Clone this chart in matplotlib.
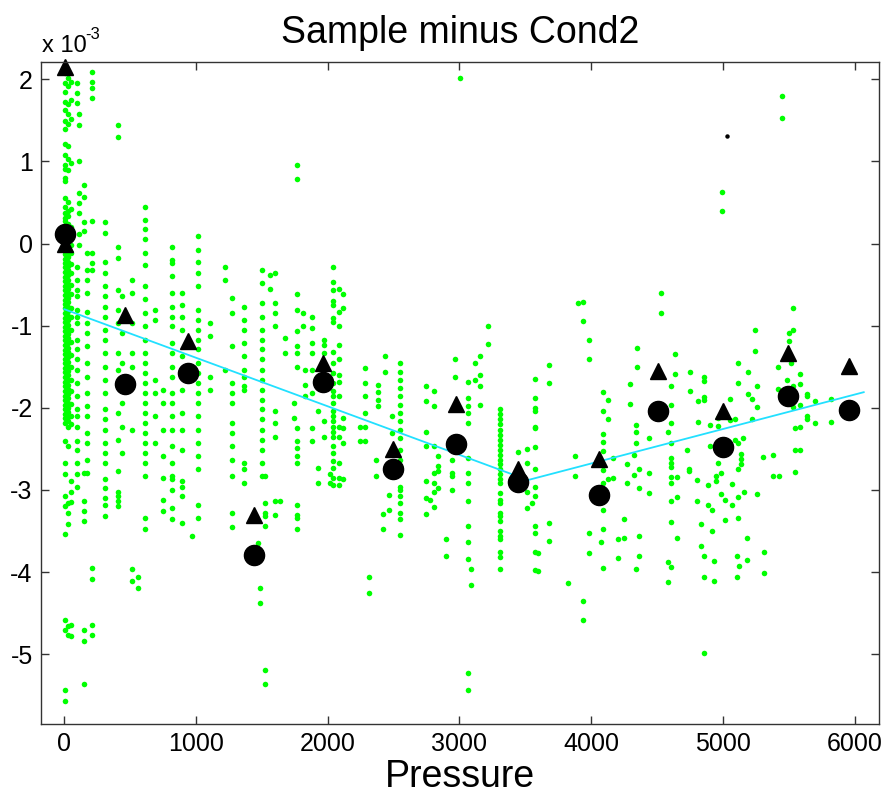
import matplotlib
matplotlib.use("Agg")
import matplotlib.pyplot as plt

plt.rcParams['font.family'] = ['Liberation Sans', 'DejaVu Sans']
plt.rcParams['axes.unicode_minus'] = False

# values are in units of 1e-3, grouped as (pressure, [values]) columns
green_surface = [
    (5, [2.07, 1.96, 1.85, 1.72, 1.62, 1.49, 1.40, 1.21, 1.08, 0.96, 0.91, 0.80, 0.76, 0.55, 0.44,
         0.37, 0.31, 0.27, 0.21, 0.17, 0.12, 0.07, 0.03, -0.03, -0.08, -0.13, -0.19, -0.24, -0.29,
         -0.35, -0.41, -0.46, -0.52, -0.57, -0.63, -0.69, -0.74, -0.79, -0.85, -0.91, -0.96, -1.02,
         -1.07, -1.13, -1.18, -1.24, -1.30, -1.35, -1.41, -1.46, -1.52, -1.57, -1.63, -1.69, -1.74,
         -1.80, -1.86, -1.91, -1.97, -2.02, -2.08, -2.13, -2.19, -2.41, -2.67, -2.81, -3.08, -3.20,
         -3.54, -4.58, -4.71, -5.44, -5.57]),
    (25, [2.01, 1.92, 1.70, 1.58, 1.45, 1.19, 1.03, 0.89, 0.50, 0.40, 0.33, 0.24, 0.15, 0.09, 0.01,
          -0.05, -0.11, -0.16, -0.22, -0.27, -0.32, -0.38, -0.44, -0.49, -0.55, -0.60, -0.66, -0.71,
          -0.77, -0.82, -0.88, -0.93, -0.99, -1.04, -1.10, -1.15, -1.21, -1.27, -1.32, -1.38, -1.44,
          -1.49, -1.55, -1.60, -1.66, -1.72, -1.77, -1.83, -1.88, -1.94, -2.00, -2.05, -2.11, -2.16,
          -2.23, -2.47, -3.16, -3.28, -3.42, -4.66, -4.77]),
    (50, [1.97, 1.75, 1.52, 0.98, 0.42, 0.20, -0.02, -0.12, -0.25, -0.36, -0.50, -0.62, -0.78, -0.90,
          -1.05, -1.20, -1.36, -1.50, -1.66, -1.80, -1.95, -2.10, -2.20, -2.89, -3.02, -3.15, -4.65,
          -4.78]),
    (100, [1.95, 1.83, 1.71, -0.28, -0.44, -0.56, -0.64, -0.81, -0.89, -0.97, -1.17, -1.29, -1.41,
           -1.54, -1.70, -1.86, -2.02, -2.10, -2.23, -2.41, -2.51, -2.67, -2.81, -2.96]),
    (114, [1.58, 1.44, 1.00, 0.62, 0.49, 0.37, 0.11, -0.02]),
    (150, [0.71, 0.57, 0.26, 0.15, -2.79, -3.14, -3.26, -3.38, -4.70, -4.84, -5.36]),
    (170, [-0.12, -0.32, -0.44, -0.60, -0.83, -0.97, -1.09, -1.25, -1.46, -1.62, -1.82, -1.98,
           -2.10, -2.31, -2.43, -2.63, -2.79]),
    (208, [2.09, 1.97, 1.89, 1.77, 0.28, -0.12, -0.24, -0.32, -3.95, -4.08, -4.65, -4.77]),
    (309, [0.26, 0.13, -0.22, -0.36, -0.52, -0.64, -0.77, -0.89, -1.05, -1.17, -1.33, -1.50, -1.66,
           -1.82, -2.02, -2.14, -2.27, -2.43, -2.55, -2.67, -2.87, -2.98, -3.10, -3.18, -3.32]),
    (408, [1.44, 1.30, -0.04, -0.18, -0.56, -0.81, -0.97, -1.33, -1.54, -1.70, -2.06, -2.39, -2.77,
           -3.02, -3.08, -3.14, -3.20]),
    (440, [-0.64, -1.09, -1.46, -1.94, -2.23, -2.55]),
    (515, [-0.44, -0.60, -0.97, -1.33, -1.50, -2.27, -3.96, -4.11]),
    (560, [-4.06, -4.19]),
    (613, [0.44, 0.29, 0.18, 0.06, -0.12, -0.26, -0.52, -0.68, -0.85, -1.01, -1.17, -1.33, -1.46,
           -1.58, -1.70, -1.82, -1.94, -2.06, -2.18, -2.31, -2.43, -2.55, -2.67, -2.83, -3.34, -3.48]),
    (690, [-0.81, -0.93, -1.66, -1.82, -2.10, -2.43]),
    (750, [-1.78, -1.94, -2.27, -2.59, -2.85, -3.12, -3.26]),
]

green_1000 = [
    (820, [-0.04, -0.20, -0.24, -0.40, -0.60, -0.77, -0.89, -1.01, -1.21, -1.33, -1.50, -1.62, -1.82,
           -1.94, -2.10, -2.27, -2.47, -2.67, -2.83, -2.87, -3.00, -3.22, -3.36]),
    (895, [-0.60, -0.75, -0.89, -1.05, -1.37, -1.54, -1.78, -2.06, -2.27, -2.51, -2.89, -2.96, -3.08,
           -3.40]),
    (970, [-3.56]),
    (1015, [0.09, -0.08, -0.22, -0.36, -0.52, -0.81, -0.93, -1.05, -1.17, -1.29, -1.46, -1.58, -1.70,
            -1.82, -1.94, -2.10, -2.27, -2.43, -2.59, -2.75, -3.18, -3.34]),
    (1107, [-0.97, -1.13, -1.62, -1.78]),
    (1220, [-0.29, -0.45, -1.54]),
    (1275, [-0.66, -0.85, -1.25, -1.70, -1.82, -1.94, -2.18, -2.31, -2.47, -2.63, -2.83, -3.28, -3.45]),
    (1365, [-0.77, -0.93, -1.05, -1.21, -1.37, -1.54, -1.62, -1.74, -1.78, -2.67, -2.75, -2.91]),
    (1470, [-3.65]),
    (1486, [-4.20, -4.38]),
    (1500, [-0.32, -0.48, -0.72, -0.89, -1.05, -1.17, -1.29, -1.41, -1.54, -1.66, -1.78, -1.90, -2.02,
            -2.14, -2.27, -2.39, -2.51, -2.67, -2.83]),
    (1524, [-2.83, -3.16, -3.28, -3.32, -3.44, -5.19, -5.36]),
    (1560, [-0.38, -0.55]),
    (1600, [-0.36, -0.72, -0.85, -1.01, -2.04, -2.18, -2.35, -3.14, -3.30]),
    (1638, [-3.14]),
    (1676, [-1.15, -1.33]),
]

green_2000 = [
    (1745, [-1.94, -2.12]),
    (1770, [0.95, 0.78, -0.62, -0.81, -1.07, -1.25, -1.33, -1.50, -2.25, -2.41, -2.49, -2.59, -2.67,
            -3.18, -3.30, -3.34, -3.48]),
    (1815, [-0.85, -1.01]),
    (1830, [-1.54, -1.72, -1.86]),
    (1880, [-0.89, -1.03, -1.21, -1.33, -1.54, -1.82, -2.25, -2.41]),
    (1929, [-2.04, -2.73, -2.92]),
    (1970, [-1.17, -1.23, -1.33, -2.16, -2.35]),
    (2018, [-2.81, -2.92]),
    (2040, [-0.29, -0.47, -0.56, -0.70, -0.75, -0.91, -0.95, -1.32, -1.46, -1.58, -1.70, -1.80, -1.86,
            -1.94, -2.04, -2.10, -2.16, -2.23, -2.29, -2.35, -2.47, -2.55, -2.65, -2.73, -2.85, -2.94]),
    (2085, [-0.55, -0.83, -1.01, -1.23, -1.41, -1.60, -1.68, -1.86, -2.23, -2.35, -2.67, -2.85, -2.94]),
    (2116, [-0.61, -0.79, -2.12, -2.25, -2.43, -2.87]),
    (2245, [-2.23, -2.40]),
    (2283, [-1.52, -1.70, -1.86, -2.06, -2.23, -2.40]),
    (2316, [-4.06, -4.25]),
    (2370, [-2.63, -2.83]),
    (2385, [-1.72, -1.81, -1.90, -1.98]),
    (2420, [-3.29, -3.48]),
    (2435, [-1.37, -1.56]),
    (2468, [-3.06, -3.25]),
    (2486, [-2.10, -2.31]),
    (2549, [-1.46, -1.56, -1.66, -1.76, -1.86, -1.96, -2.06, -2.16, -2.27, -2.37, -2.51, -2.63, -2.96,
            -3.00, -3.08, -3.16, -3.28, -3.35, -3.55]),
]

green_3000 = [
    (2745, [-1.74, -1.92, -2.29, -2.47, -2.89, -3.10, -3.29]),
    (2777, [-3.12]),
    (2805, [-1.80, -1.98, -2.47, -2.79, -2.92, -3.02, -3.21]),
    (2835, [-2.59, -2.71, -2.77, -2.98]),
    (2898, [-3.60, -3.80]),
    (2940, [-2.63, -2.79, -2.83, -3.00]),
    (2967, [-1.41, -1.62]),
    (3004, [2.02]),
    (3065, [-1.68, -1.88, -1.98, -2.06, -2.18, -2.61, -2.80, -2.92, -3.13, -3.44, -3.63, -3.84, -5.23,
            -5.43]),
    (3088, [-3.96, -4.16]),
    (3119, [-1.46, -1.66]),
    (3157, [-1.37, -1.60, -1.74, -1.96]),
    (3220, [-1.01, -1.22]),
    (3308, [-2.02, -2.08, -2.14, -2.20, -2.27, -2.33, -2.39, -2.45, -2.51, -2.57, -2.63, -2.69, -2.75,
            -2.81, -2.87, -2.92, -3.04, -3.12, -3.16, -3.28, -3.32, -3.38, -3.50, -3.56, -3.60, -3.75,
            -3.82, -3.96]),
    (3448, [-2.54]),
    (3511, [-2.50, -2.67, -3.02, -3.22]),
    (3549, [-3.16]),
    (3574, [-1.65, -1.88, -2.00, -2.04, -2.23, -2.25, -2.48, -2.75, -2.96, -3.08, -3.44, -3.53, -3.75,
            -3.98]),
    (3600, [-3.77, -3.99]),
    (3680, [-1.48, -1.70, -3.40, -3.62]),
]

green_4000 = [
    (3827, [-4.13]), (3878, [-2.59, -2.83]), (3903, [-0.72]),
    (3936, [-0.71, -0.94, -4.35, -4.58]), (3987, [-1.18, -1.41, -3.53, -3.77]),
    (4073, [-3.64]),
    (4088, [-1.81, -2.04, -2.32, -2.42, -2.53, -2.76, -2.92, -3.24, -3.48, -3.95]),
    (4125, [-1.91, -2.14, -2.87]), (4169, [-2.61, -2.85]), (4202, [-3.60, -3.83]),
    (4250, [-3.35, -3.58]), (4270, [-2.68, -2.92]), (4296, [-1.71, -1.95]),
    (4326, [-2.57, -2.82]), (4341, [-2.21, -2.29, -2.43, -3.96]), (4346, [-1.27, -1.50]),
    (4367, [-2.74, -2.98, -3.56, -3.80]), (4442, [-2.37, -2.79, -3.04]), (4528, [-0.60, -0.85]),
    (4587, [-2.30, -3.88, -4.12]),
    (4604, [-1.73, -1.97, -2.19, -2.43, -2.61, -2.67, -2.72, -2.84, -2.92, -3.14, -3.39, -3.94]),
    (4637, [-1.35, -1.59]), (4650, [-2.84, -3.09, -3.58]), (4731, [-2.51]),
    (4745, [-2.74, -2.77]), (4751, [-1.56, -1.80]), (4802, [-2.88, -3.14]),
    (4815, [-1.92, -2.17]), (4832, [-3.41, -3.68]),
    (4860, [-1.63, -1.67, -1.87, -1.91, -3.81, -4.06, -4.98]),
    (4885, [-2.94, -3.18]), (4903, [-2.21, -2.46]), (4916, [-3.25, -3.50]),
    (4933, [-3.86, -4.11]), (4945, [-2.83, -2.89]), (4960, [-2.13, -2.22, -2.67]),
    (4984, [-2.79, -3.05]), (4991, [0.63, 0.39]), (5015, [-3.12, -3.37]),
    (5055, [-1.89, -2.15]), (5068, [-2.93, -3.18]), (5093, [-2.14, -2.39]),
    (5108, [-3.80, -4.06]), (5118, [-1.45, -1.70, -2.43, -2.74, -3.09, -3.34]),
    (5123, [-3.93]), (5140, [-2.56, -2.62, -2.69]), (5156, [-2.37]), (5164, [-3.02]),
    (5181, [-3.59, -3.85]), (5194, [-1.57, -1.83]), (5219, [-1.89, -2.14]),
    (5245, [-1.05, -1.31]), (5262, [-1.73, -1.99, -3.05]), (5303, [-2.60]),
    (5316, [-3.75, -4.01]), (5379, [-2.57, -2.83]), (5417, [-1.50, -1.77]), (5430, [-2.83]),
    (5450, [1.80, 1.53]), (5485, [-1.66]), (5500, [-1.09, -1.19]), (5518, [-1.46]),
    (5531, [-0.78, -1.05, -1.73, -1.99]), (5545, [-2.25, -2.52, -2.78]),
    (5584, [-1.59, -1.71, -1.97, -2.23, -2.51]), (5637, [-1.83, -1.86, -2.10, -2.14]),
    (5700, [-1.92, -2.19]), (5819, [-1.89, -2.17]),
]

# bin means (circles) and medians (triangles)
mean_p = [5, 461, 942, 1440, 1962, 2493, 2974, 3442, 4059, 4508, 5004, 5497, 5958]
mean_v = [0.12, -1.71, -1.58, -3.79, -1.68, -2.74, -2.44, -2.90, -3.06, -2.04, -2.48, -1.86, -2.03]
tri_p = [5, 5, 461, 942, 1440, 1962, 2493, 2974, 3442, 4059, 4508, 5004, 5497, 5958]
tri_v = [2.15, 0.0, -0.87, -1.19, -3.30, -1.46, -2.50, -1.95, -2.75, -2.62, -1.55, -2.04, -1.33, -1.49]

# piecewise linear fit
fit_p = [0, 3520, 6070]
fit_v = [-0.80, -2.88, -1.81]

outlier_p = [5030]
outlier_v = [1.31]

green_p, green_v = [], []
for group in (green_surface, green_1000, green_2000, green_3000, green_4000):
    for p, vals in group:
        green_p += [p] * len(vals)
        green_v += vals

fig = plt.figure(figsize=(8.87, 8.05), dpi=100)
ax = fig.add_axes([0.0462, 0.1006, 0.9448, 0.8224])

ax.plot(green_p, green_v, 'o', color='#00ff00', ms=4.0, mew=0, linestyle='none')
ax.plot(fit_p, fit_v, color='#22e0ff', lw=1.3)
ax.plot(tri_p, tri_v, '^', color='k', ms=11, linestyle='none', clip_on=False)
ax.plot(mean_p, mean_v, 'o', color='k', ms=14.5, linestyle='none', clip_on=False)
ax.plot(outlier_p, outlier_v, 'o', color='k', ms=3.2, mew=0, linestyle='none')

ax.set_xlim(-177, 6186)
ax.set_ylim(-5.85, 2.21)
ax.set_xticks(range(0, 7000, 1000))
ax.set_yticks(range(-5, 3))
ax.tick_params(direction='in', length=6, width=1, top=True, right=True,
               labelsize=18, pad=6, color='#333333')
for sp in ax.spines.values():
    sp.set_color('#333333')
    sp.set_linewidth(1.0)

ax.set_title('Sample minus Cond2', fontsize=27, pad=14)
ax.set_xlabel('Pressure', fontsize=27, labelpad=2)
# MATLAB-style exponent label above the y axis
ax.text(0.001, 1.015, 'x 10', transform=ax.transAxes, fontsize=17,
        ha='left', va='baseline')
ax.text(0.053, 1.034, '-3', transform=ax.transAxes, fontsize=12,
        ha='left', va='baseline')

fig.savefig('out.png', dpi=100)
